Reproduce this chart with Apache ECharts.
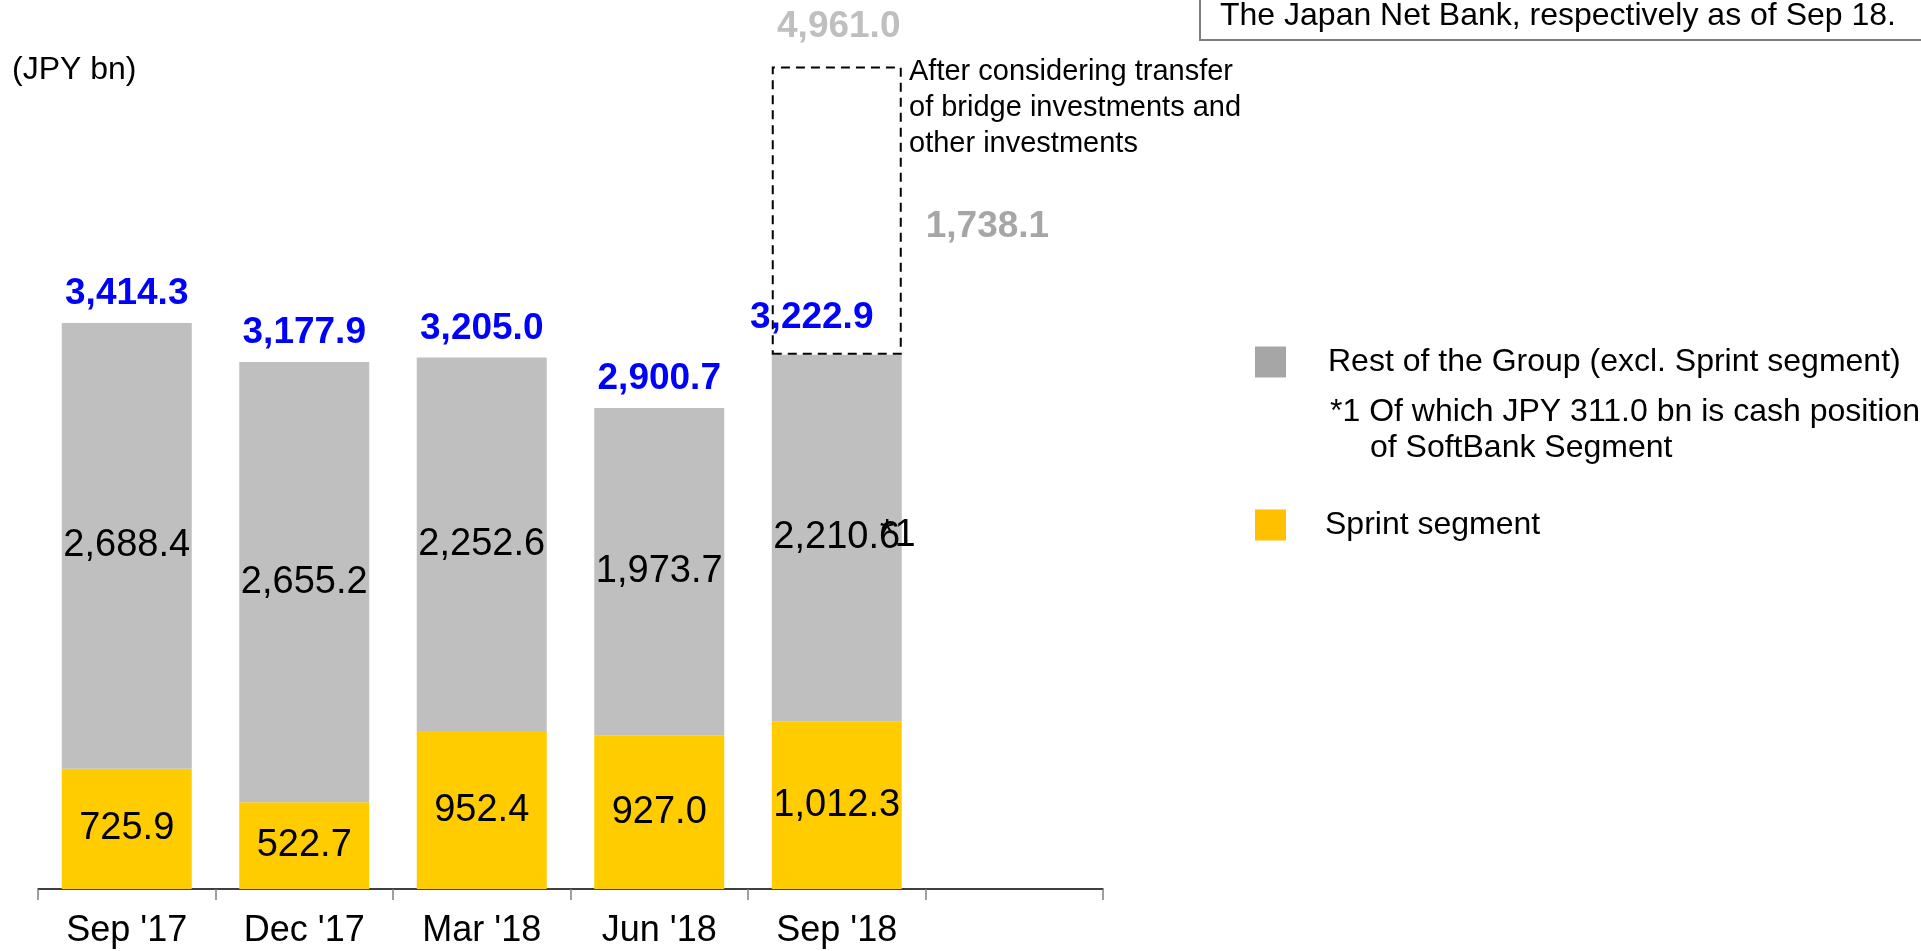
<!DOCTYPE html>
<html lang="en">
<head>
    <meta charset="UTF-8">
    <title>Cash position</title>
    <script src="https://cdn.jsdelivr.net/npm/echarts@6/dist/echarts.min.js"></script>
    <style>html,body{margin:0;padding:0;background:#fff;}</style>
</head>
<body>
    <div id="main" style="width: 1921px;height:951px;"></div>
    <script type="text/javascript">
        // chart data
        var categories = ["Sep '17", "Dec '17", "Mar '18", "Jun '18", "Sep '18", ""];
        var sprint = [725.9, 522.7, 952.4, 927.0, 1012.3];
        var rest = [2688.4, 2655.2, 2252.6, 1973.7, 2210.6];
        var totals = [3414.3, 3177.9, 3205.0, 2900.7, 3222.9];
        var transfer = [null, null, null, null, 1738.1];
        var adjustedTotal = [null, null, null, null, 4961.0];

        var font = 'Liberation Sans, Arial, sans-serif';
        var restName = 'Rest of the Group (excl. Sprint segment)';
        var sprintName = 'Sprint segment';

        function fmt(v) {
            return Number(v).toLocaleString('en-US', {minimumFractionDigits: 1, maximumFractionDigits: 1});
        }

        var myChart = echarts.init(document.getElementById('main'));

        // total labels, the last one nudged left like the slide
        var totalData = totals.map(function (v, i) {
            return i === 4 ? {value: v, label: {offset: [-25, -8]}} : v;
        });

        var option = {
            animation: false,
            textStyle: {fontFamily: font},
            grid: {left: 38, right: 818, top: 60, bottom: 62, containLabel: false},
            legend: [
                {
                    data: [{name: restName, itemStyle: {color: '#A6A6A6'}}],
                    left: 1255, top: 346, padding: 0,
                    icon: 'rect', itemWidth: 31, itemHeight: 31,
                    selectedMode: false,
                    textStyle: {fontSize: 32, color: '#000', fontFamily: font, padding: [16, 0, 0, 37]}
                },
                {
                    data: [{name: sprintName, itemStyle: {color: '#FFC000'}}],
                    left: 1255, top: 509, padding: 0,
                    icon: 'rect', itemWidth: 31, itemHeight: 31,
                    selectedMode: false,
                    textStyle: {fontSize: 32, color: '#000', fontFamily: font, padding: [0, 0, 0, 34]}
                }
            ],
            xAxis: {
                type: 'category',
                data: categories,
                axisLine: {lineStyle: {color: '#000', width: 1.5}},
                axisTick: {show: true, length: 11, lineStyle: {color: '#808080', width: 1.5}},
                axisLabel: {fontSize: 36, color: '#000', margin: 24, fontFamily: font}
            },
            yAxis: {
                type: 'value', min: 0, max: 5000, show: false,
                splitLine: {show: false}
            },
            series: [
                {
                    name: sprintName,
                    type: 'bar',
                    stack: 'cash',
                    barWidth: 130,
                    data: sprint,
                    itemStyle: {color: '#FFCC00'},
                    label: {
                        show: true, position: 'inside', fontSize: 38, color: '#000', fontFamily: font,
                        formatter: function (p) { return fmt(p.value); }
                    }
                },
                {
                    name: restName,
                    type: 'bar',
                    stack: 'cash',
                    barWidth: 130,
                    data: rest,
                    itemStyle: {color: '#BFBFBF'},
                    label: {
                        show: true, position: 'inside', fontSize: 38, color: '#000', fontFamily: font,
                        formatter: function (p) { return fmt(p.value); }
                    },
                    markPoint: {
                        symbol: 'rect', symbolSize: 0,
                        data: [{
                            coord: [categories[4], sprint[4] + rest[4] / 2],
                            label: {
                                show: true, position: 'inside', offset: [61, -2], formatter: '*1',
                                fontSize: 38, color: '#000', fontFamily: font
                            }
                        }]
                    }
                },
                {
                    name: 'transfer',
                    type: 'bar',
                    stack: 'cash',
                    barWidth: 130,
                    data: transfer,
                    itemStyle: {
                        color: 'rgba(0,0,0,0)', borderColor: '#000', borderWidth: 2,
                        borderType: [9, 6]
                    },
                    label: {
                        show: true, position: 'right', distance: 24, offset: [0, 16],
                        fontSize: 37, fontWeight: 'bold', color: '#A6A6A6', fontFamily: font,
                        formatter: function (p) { return p.value == null ? '' : fmt(p.value); }
                    },
                    markPoint: {
                        symbol: 'rect', symbolSize: 0,
                        data: [{
                            coord: [categories[4], adjustedTotal[4]],
                            label: {
                                show: true, position: 'inside', offset: [2, -40],
                                formatter: fmt(adjustedTotal[4]),
                                fontSize: 37, fontWeight: 'bold', color: '#BFBFBF', fontFamily: font
                            }
                        }]
                    }
                },
                {
                    name: 'total',
                    type: 'scatter',
                    symbol: 'rect',
                    symbolSize: 1,
                    data: totalData,
                    itemStyle: {color: 'rgba(255,255,255,0)', opacity: 1},
                    label: {
                        show: true, position: 'top', distance: 10,
                        fontSize: 37, fontWeight: 'bold', color: '#0000FF', fontFamily: font,
                        formatter: function (p) { return fmt(p.value); }
                    }
                }
            ],
            graphic: [
                {
                    type: 'text', x: 12, y: 70,
                    style: {text: '(JPY bn)', fontSize: 32, fontFamily: font, fill: '#000', verticalAlign: 'middle'}
                },
                {
                    type: 'text', x: 909, y: 54,
                    style: {
                        text: 'After considering transfer\nof bridge investments and\nother investments',
                        fontSize: 29, lineHeight: 36, fontFamily: font, fill: '#000', verticalAlign: 'top'
                    }
                },
                {
                    type: 'rect',
                    shape: {x: 1200, y: -5, width: 740, height: 45},
                    style: {fill: '#fff', stroke: '#7F7F7F', lineWidth: 2}
                },
                {
                    type: 'text', x: 1220, y: 16,
                    style: {
                        text: 'The Japan Net Bank, respectively as of Sep 18.',
                        fontSize: 32, fontFamily: font, fill: '#000', verticalAlign: 'middle'
                    }
                },
                {
                    type: 'text', x: 1330, y: 412,
                    style: {text: '*1 Of which JPY 311.0 bn is cash position', fontSize: 32, fontFamily: font, fill: '#000', verticalAlign: 'middle'}
                },
                {
                    type: 'text', x: 1370, y: 448,
                    style: {text: 'of SoftBank Segment', fontSize: 32, fontFamily: font, fill: '#000', verticalAlign: 'middle'}
                }
            ]
        };

        myChart.setOption(option);
    </script>
</body>
</html>
